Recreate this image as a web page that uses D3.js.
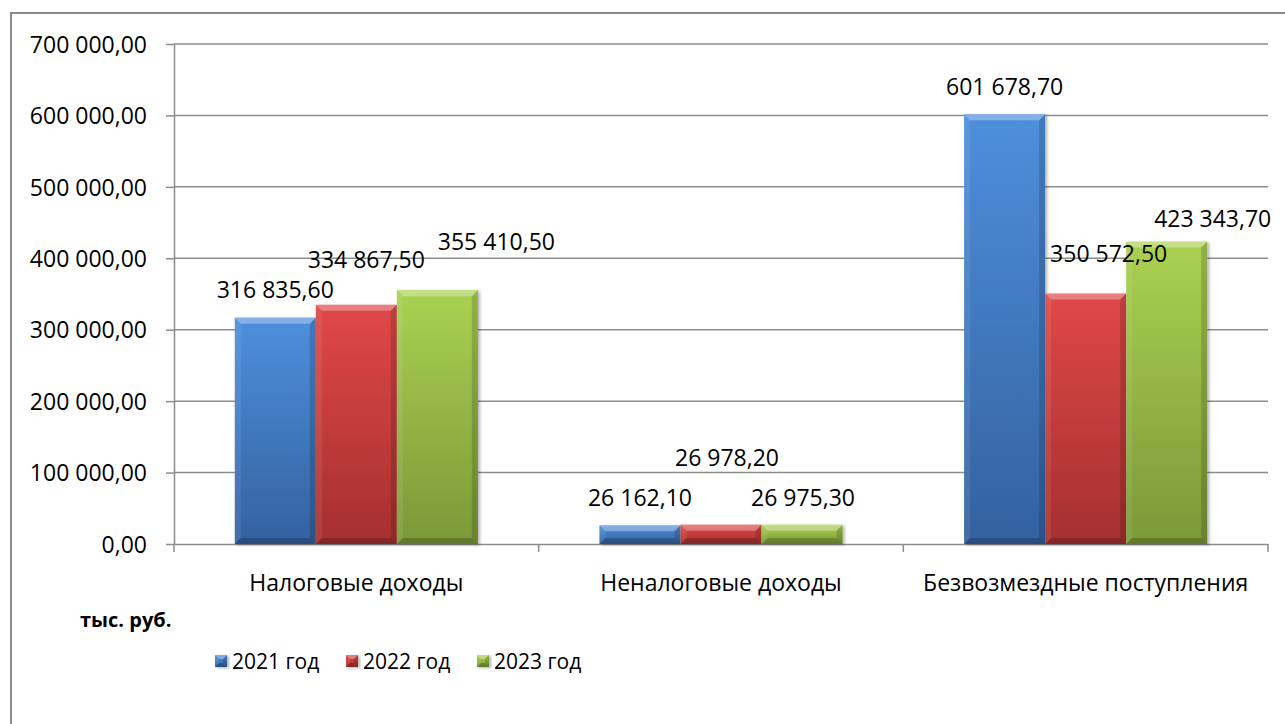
<!DOCTYPE html>
<html>
<head>
<meta charset="utf-8">
<script src="https://cdn.jsdelivr.net/npm/d3@7"></script>
<style>
  body { margin: 0; background: #fff; }
  text { font-family: "Open Sans", "Noto Sans", sans-serif; fill: #000; }
</style>
</head>
<body>
<svg id="chart" width="1285" height="724"></svg>
<script>
// data (тыс. руб.)
var categories = ["Налоговые доходы", "Неналоговые доходы", "Безвозмездные поступления"];
var years = ["2021 год", "2022 год", "2023 год"];
var values2021 = [316835.6, 26162.1, 601678.7];
var values2022 = [334867.5, 26978.2, 350572.5];
var values2023 = [355410.5, 26975.3, 423343.7];
var yTicks = [0, 100000, 200000, 300000, 400000, 500000, 600000, 700000];
var unitLabel = "тыс. руб.";

// hand-moved data labels in the original (px nudges from the default spot)
var labelDx = [[0, 0, 0], [10, 6, 23], [59, 1, 46]];
var labelDy = [[-20, -19, -19], [-37, -59, -32], [-40, -19, -15]];

var series = [values2021, values2022, values2023];
var colors = [
  {top: "#4f8fdc", bottom: "#33619f"},
  {top: "#e04848", bottom: "#a52f2f"},
  {top: "#aad152", bottom: "#7b9838"}
];

var svg = d3.select("#chart");
var plotLeft = 174, plotRight = 1268, plotTop = 44, plotBottom = 544;

var ru = d3.formatLocale({decimal: ",", thousands: " ", grouping: [3], currency: ["", ""]});
var fmt = ru.format(",.2f");

var x = d3.scaleBand().domain(categories).range([plotLeft, plotRight]).padding(0);
var xs = d3.scaleBand().domain(d3.range(3)).range([0, x.bandwidth()]).paddingInner(0).paddingOuter(0.75);
var y = d3.scaleLinear().domain([0, 700000]).range([plotBottom, plotTop]);

var defs = svg.append("defs");
colors.forEach(function(c, i) {
  var g = defs.append("linearGradient").attr("id", "g" + i)
    .attr("x1", 0).attr("y1", 0).attr("x2", 0).attr("y2", 1);
  g.append("stop").attr("offset", "0%").attr("stop-color", c.top);
  g.append("stop").attr("offset", "100%").attr("stop-color", c.bottom);
});
var sh = defs.append("filter").attr("id", "shadow").attr("x", "-10%").attr("y", "-10%").attr("width", "130%").attr("height", "130%");
sh.append("feDropShadow").attr("dx", 2).attr("dy", 1).attr("stdDeviation", 1.5)
  .attr("flood-color", "#000").attr("flood-opacity", 0.3);

// outer frame
svg.append("rect").attr("x", 11).attr("y", 13).attr("width", 1300).attr("height", 730)
  .attr("fill", "none").attr("stroke", "#8a8a8a").attr("stroke-width", 2);

// gridlines
svg.append("g").selectAll("line").data(yTicks.slice(1)).join("line")
  .attr("x1", plotLeft).attr("x2", plotRight)
  .attr("y1", function(d) { return y(d); }).attr("y2", function(d) { return y(d); })
  .attr("stroke", "#8c8c8c").attr("stroke-width", 1.5);

// y axis
var yAxis = svg.append("g").attr("transform", "translate(" + plotLeft + ",0)")
  .call(d3.axisLeft(y).tickValues(yTicks).tickSize(8).tickSizeOuter(0).tickPadding(19).tickFormat(fmt));
yAxis.select(".domain").attr("stroke", "#8c8c8c").attr("stroke-width", 1.5);
yAxis.selectAll(".tick line").attr("stroke", "#8c8c8c").attr("stroke-width", 1.5);
yAxis.selectAll(".tick text").attr("font-size", 23).attr("font-family", "Open Sans").attr("fill", "#000").attr("dy", "0.36em");

// x axis
var xAxis = svg.append("g").attr("transform", "translate(0," + plotBottom + ")")
  .call(d3.axisBottom(x).tickSize(0).tickPadding(0));
xAxis.select(".domain").attr("stroke", "#8c8c8c").attr("stroke-width", 1.5);
xAxis.selectAll(".tick text").attr("font-size", 23).attr("font-family", "Open Sans").attr("fill", "#000")
  .attr("dy", 0).attr("y", 47);
var bounds = [plotLeft].concat(categories.map(function(c) { return x(c) + x.bandwidth(); }));
svg.append("g").selectAll("line").data(bounds).join("line")
  .attr("x1", function(d) { return d; }).attr("x2", function(d) { return d; })
  .attr("y1", plotBottom).attr("y2", plotBottom + 8)
  .attr("stroke", "#8c8c8c").attr("stroke-width", 1.5);

// bars with a bevel look
function bevelBar(g, bx, by, w, h, i, b) {
  b = Math.min(b, h / 2, w / 2);
  g.append("rect").attr("x", bx).attr("y", by).attr("width", w).attr("height", h)
    .attr("fill", "url(#g" + i + ")").attr("filter", "url(#shadow)");
  var pts = function(p) { return p.map(function(q) { return q.join(","); }).join(" "); };
  g.append("polygon").attr("points", pts([[bx, by], [bx + w, by], [bx + w - b, by + b], [bx + b, by + b]]))
    .attr("fill", "#fff").attr("opacity", 0.3);
  g.append("polygon").attr("points", pts([[bx, by], [bx + b, by + b], [bx + b, by + h - b], [bx, by + h]]))
    .attr("fill", "#fff").attr("opacity", 0.08);
  g.append("polygon").attr("points", pts([[bx + w, by], [bx + w - b, by + b], [bx + w - b, by + h - b], [bx + w, by + h]]))
    .attr("fill", "#000").attr("opacity", 0.15);
  g.append("polygon").attr("points", pts([[bx, by + h], [bx + b, by + h - b], [bx + w - b, by + h - b], [bx + w, by + h]]))
    .attr("fill", "#000").attr("opacity", 0.2);
}

var barsG = svg.append("g");
series.forEach(function(vals, i) {
  vals.forEach(function(v, j) {
    var bx = x(categories[j]) + xs(i);
    var by = y(v);
    bevelBar(barsG, bx, by, xs.bandwidth(), y(0) - by, i, 6);
  });
});

// data labels
var labG = svg.append("g");
series.forEach(function(vals, i) {
  vals.forEach(function(v, j) {
    labG.append("text")
      .attr("x", x(categories[j]) + xs(i) + xs.bandwidth() / 2 + labelDx[i][j])
      .attr("y", y(v) + labelDy[i][j])
      .attr("text-anchor", "middle").attr("font-size", 23)
      .text(fmt(v));
  });
});

// unit label
svg.append("text").attr("x", 80).attr("y", 627).attr("font-size", 20).attr("font-weight", "bold")
  .text(unitLabel);

// legend
var leg = svg.append("g").attr("transform", "translate(215,669)");
years.forEach(function(yr, i) {
  var g = leg.append("g").attr("transform", "translate(" + (i * 131) + ",0)");
  bevelBar(g, 0, -14, 12, 12, i, 4);
  g.append("text").attr("x", 17).attr("y", 0).attr("font-size", 21).text(yr);
});
</script>
</body>
</html>
